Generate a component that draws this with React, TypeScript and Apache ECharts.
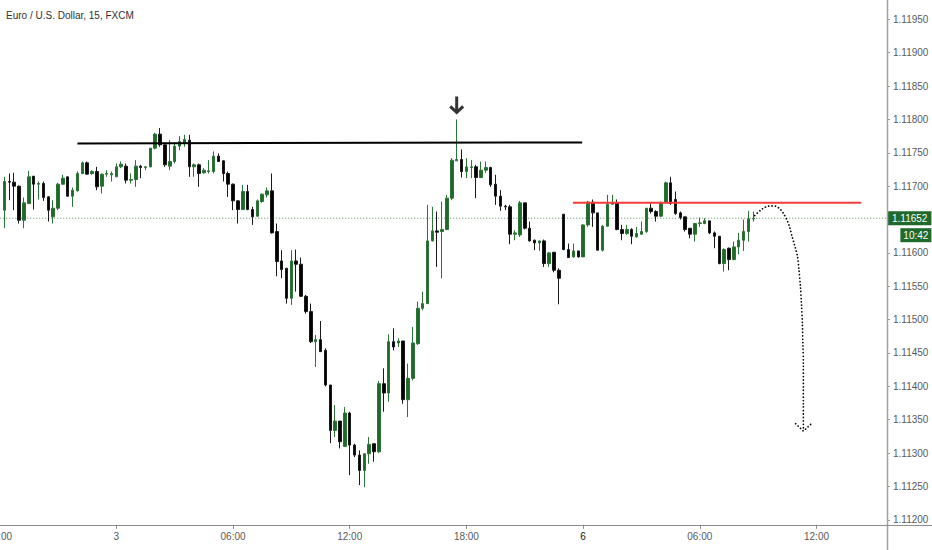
import React, { useEffect, useRef } from "react";
import * as echarts from "echarts";

const chartTitle = "Euro / U.S. Dollar, 15, FXCM";

// 15-minute candles, first candle is Thu 2020-01-02 18:15
const opens = [
  1.11664, 1.11707, 1.11706, 1.117, 1.11649, 1.11674, 1.11715, 1.11703, 1.11704, 1.11684,
  1.11654, 1.11667, 1.11703, 1.11714, 1.11685, 1.11693, 1.11719, 1.11735, 1.11719, 1.11722,
  1.117, 1.11718, 1.11717, 1.11714, 1.11729, 1.1173, 1.11709, 1.1171, 1.1173, 1.11728,
  1.11729, 1.11757, 1.11778, 1.11762, 1.1173, 1.11737, 1.1176, 1.11764, 1.11769, 1.11729,
  1.11732, 1.1172, 1.11722, 1.11722, 1.11745, 1.11738, 1.11719, 1.11703, 1.11678, 1.11665,
  1.11692, 1.11665, 1.11655, 1.11677, 1.11687, 1.11693, 1.11632, 1.11588, 1.11577, 1.11532,
  1.11588, 1.11583, 1.11535, 1.11512, 1.11467, 1.1147, 1.11454, 1.11402, 1.11334, 1.11348,
  1.1131, 1.1136, 1.11312, 1.11297, 1.11274, 1.11299, 1.11314, 1.11302, 1.11404, 1.1139,
  1.11467, 1.11465, 1.11468, 1.1138, 1.11412, 1.11464, 1.11517, 1.11524, 1.11618, 1.11633,
  1.11632, 1.11635, 1.11682, 1.11738, 1.1174, 1.11722, 1.11728, 1.11729, 1.11713, 1.11724,
  1.11728, 1.11703, 1.11685, 1.1167, 1.11669, 1.11628, 1.11627, 1.11675, 1.11637, 1.11619,
  1.11615, 1.11618, 1.11584, 1.11601, 1.11574, 1.11658, 1.11605, 1.11594, 1.11603, 1.11594,
  1.11642, 1.11676, 1.1166, 1.11604, 1.1164, 1.11673, 1.11675, 1.11635, 1.11629, 1.11635,
  1.11624, 1.11628, 1.11632, 1.11667, 1.11662, 1.11655, 1.11675, 1.11705, 1.1168, 1.1166,
  1.11654, 1.11637, 1.11628, 1.11644, 1.11644, 1.11648, 1.1163, 1.11625, 1.11584, 1.11607,
  1.1159, 1.11609, 1.11619, 1.11632, 1.11651,
];
const highs = [
  1.11714, 1.11719, 1.1172, 1.11701, 1.11683, 1.11723, 1.11715, 1.11707, 1.11707, 1.11685,
  1.11679, 1.11705, 1.11717, 1.11714, 1.11698, 1.11722, 1.11737, 1.11737, 1.11724, 1.11729,
  1.11719, 1.11724, 1.11722, 1.11734, 1.11737, 1.11734, 1.11719, 1.11739, 1.11732, 1.1173,
  1.11757, 1.1178, 1.11787, 1.11762, 1.11769, 1.11765, 1.11775, 1.11777, 1.11777, 1.11734,
  1.11734, 1.11727, 1.11739, 1.11752, 1.11749, 1.11739, 1.11722, 1.11704, 1.11679, 1.11702,
  1.11702, 1.11669, 1.1168, 1.11689, 1.11698, 1.11719, 1.11644, 1.11604, 1.11577, 1.11604,
  1.11605, 1.11593, 1.11537, 1.11524, 1.11477, 1.11498, 1.11457, 1.11402, 1.11372, 1.11348,
  1.11369, 1.11362, 1.11314, 1.11304, 1.11299, 1.11324, 1.11314, 1.11408, 1.11427, 1.11478,
  1.11487, 1.11472, 1.11468, 1.11434, 1.11489, 1.11527, 1.11542, 1.11672, 1.11669, 1.11662,
  1.11677, 1.11687, 1.11742, 1.118, 1.11755, 1.11742, 1.11739, 1.11732, 1.11737, 1.11737,
  1.11729, 1.11717, 1.11694, 1.11672, 1.11672, 1.11634, 1.11678, 1.11675, 1.11647, 1.1162,
  1.11618, 1.1162, 1.11601, 1.11601, 1.11577, 1.11658, 1.11614, 1.11614, 1.11603, 1.11643,
  1.11678, 1.1168, 1.1166, 1.11642, 1.11687, 1.11687, 1.1168, 1.11642, 1.11642, 1.11637,
  1.11639, 1.11647, 1.11667, 1.11674, 1.11664, 1.11677, 1.11707, 1.11714, 1.11692, 1.11662,
  1.11654, 1.11637, 1.11645, 1.11653, 1.11652, 1.11648, 1.11632, 1.11625, 1.11607, 1.11608,
  1.11617, 1.1163, 1.1165, 1.11663, 1.11662,
];
const lows = [
  1.11637, 1.11679, 1.11664, 1.11644, 1.11637, 1.11673, 1.11665, 1.1168, 1.11678, 1.11647,
  1.11644, 1.11664, 1.11702, 1.11684, 1.11669, 1.11692, 1.11718, 1.11717, 1.11717, 1.11694,
  1.11689, 1.11714, 1.11707, 1.11714, 1.11727, 1.11704, 1.11704, 1.11699, 1.11712, 1.11724,
  1.11728, 1.11755, 1.11759, 1.11729, 1.11724, 1.11734, 1.11754, 1.11759, 1.11714, 1.11714,
  1.11699, 1.11719, 1.11719, 1.11719, 1.11737, 1.11707, 1.11684, 1.11664, 1.11644, 1.11664,
  1.11664, 1.11642, 1.11654, 1.11675, 1.11683, 1.11629, 1.11565, 1.11562, 1.11524, 1.11522,
  1.11542, 1.11534, 1.11509, 1.11465, 1.11429, 1.11452, 1.114, 1.11315, 1.11324, 1.11307,
  1.1131, 1.11267, 1.11294, 1.11252, 1.11249, 1.11284, 1.11287, 1.113, 1.11362, 1.11377,
  1.11454, 1.11459, 1.11374, 1.11354, 1.11409, 1.11462, 1.11514, 1.11524, 1.11617, 1.11579,
  1.11562, 1.11634, 1.11679, 1.11738, 1.11713, 1.11712, 1.11712, 1.11682, 1.11712, 1.1172,
  1.11699, 1.11672, 1.11663, 1.11664, 1.11613, 1.11619, 1.11624, 1.11635, 1.11617, 1.11604,
  1.11603, 1.11579, 1.11579, 1.11571, 1.11523, 1.11604, 1.11593, 1.11593, 1.11593, 1.11594,
  1.11639, 1.11639, 1.11604, 1.11602, 1.1164, 1.11672, 1.11634, 1.11619, 1.11627, 1.11613,
  1.11623, 1.11627, 1.1163, 1.11659, 1.11647, 1.11654, 1.11674, 1.11672, 1.11657, 1.1165,
  1.11632, 1.11622, 1.11617, 1.11639, 1.11643, 1.11628, 1.11607, 1.11583, 1.11572, 1.11574,
  1.11589, 1.11598, 1.11603, 1.11617, 1.11647,
];
const closes = [
  1.11707, 1.11706, 1.117, 1.11649, 1.11675, 1.11714, 1.11703, 1.11704, 1.11683, 1.11664,
  1.11667, 1.11703, 1.11712, 1.11685, 1.11694, 1.11719, 1.11735, 1.11718, 1.11722, 1.11699,
  1.11718, 1.11719, 1.11719, 1.11729, 1.11733, 1.11709, 1.1171, 1.1173, 1.11728, 1.11729,
  1.11757, 1.11778, 1.11762, 1.11732, 1.11737, 1.1176, 1.11767, 1.1177, 1.11729, 1.11732,
  1.11719, 1.11724, 1.11723, 1.11745, 1.11737, 1.11719, 1.11703, 1.11678, 1.11665, 1.11692,
  1.11665, 1.11654, 1.11678, 1.11688, 1.11693, 1.1163, 1.11587, 1.11575, 1.11532, 1.11588,
  1.11583, 1.11535, 1.11512, 1.11467, 1.1147, 1.11452, 1.11402, 1.11334, 1.11348, 1.11317,
  1.1136, 1.11312, 1.11297, 1.11274, 1.11299, 1.11313, 1.11302, 1.11404, 1.1139, 1.11467,
  1.11459, 1.11468, 1.1138, 1.11412, 1.11465, 1.11517, 1.11524, 1.11618, 1.11633, 1.11631,
  1.11635, 1.11682, 1.11739, 1.1174, 1.11722, 1.11729, 1.11729, 1.11713, 1.11724, 1.11728,
  1.11702, 1.11685, 1.1167, 1.11669, 1.11628, 1.1163, 1.11675, 1.11637, 1.11618, 1.11615,
  1.11618, 1.11584, 1.116, 1.11574, 1.11562, 1.11605, 1.11593, 1.11603, 1.11594, 1.11642,
  1.11676, 1.1166, 1.11604, 1.1164, 1.11673, 1.11675, 1.11635, 1.11629, 1.11635, 1.11625,
  1.11629, 1.11632, 1.11667, 1.11662, 1.11655, 1.11675, 1.11705, 1.11674, 1.11659, 1.11653,
  1.11635, 1.11628, 1.11644, 1.11645, 1.11648, 1.1163, 1.11625, 1.11584, 1.11605, 1.1159,
  1.11609, 1.11619, 1.11632, 1.11651, 1.11652,
];

const lastPrice = 1.11652;
const barCountdown = "10:42";

// drawings (x in slot units, y in price)
const resistanceLine = [
  [16, 1.11764],
  [119.8, 1.117655],
];
const redLevelLine = [
  [117.9, 1.11675],
  [177.2, 1.11675],
];
const arrowMark = [[94, 1.11821]];
const projectionPath = [
  [155.3, 1.11656],
  [156.5, 1.11664],
  [157.6, 1.11669],
  [158.6, 1.116705],
  [159.6, 1.1167],
  [160.6, 1.11665],
  [161.3, 1.11658],
  [162.0, 1.11648],
  [162.5, 1.11638],
  [163.0, 1.11624],
  [163.6, 1.11609],
  [164.1, 1.11594],
  [164.4, 1.11574],
  [164.7, 1.11549],
  [164.9, 1.11524],
  [165.1, 1.11494],
  [165.2, 1.11464],
  [165.3, 1.11434],
  [165.3, 1.11374],
  [165.3, 1.11336],
];
const projectionHead = [
  [163.7, 1.11344],
  [165.3, 1.11333],
  [166.8, 1.11343],
];

// axis
const yMin = 1.112;
const yMax = 1.12;
const yStep = 0.0005;
const SLOT_COUNT = 183;
const FIRST_CANDLE_SLOT = 1;
const FRIDAY_LAST_SLOT = 115;
const MONDAY_OPEN_SLOT = 120;
const sessionStart = Date.UTC(2020, 0, 2, 18, 0);
const mondayStart = Date.UTC(2020, 0, 6, 0, 0);
const QUARTER = 15 * 60 * 1000;

const pad = (n: number) => (n < 10 ? "0" + n : String(n));
const categories: string[] = Array.from({ length: SLOT_COUNT }, (_, i) => {
  const t = i <= FRIDAY_LAST_SLOT ? sessionStart + i * QUARTER : mondayStart + (i - MONDAY_OPEN_SLOT) * QUARTER;
  const d = new Date(t);
  return `${d.getUTCFullYear()}-${pad(d.getUTCMonth() + 1)}-${pad(d.getUTCDate())} ${pad(d.getUTCHours())}:${pad(d.getUTCMinutes())}`;
});

const isMajor = (value: string) => {
  const hm = value.slice(11);
  const h = parseInt(hm.slice(0, 2), 10);
  return hm.slice(3) === "00" && h % 6 === 0;
};
const tickText = (value: string) => {
  const hm = value.slice(11);
  if (hm === "00:00") {
    const day = String(parseInt(value.slice(8, 10), 10));
    return value.slice(8, 10) === "06" ? `{d|${day}}` : day;
  }
  return hm;
};

const GREEN = "#1f6a2b";
const AXIS_FONT = "'Liberation Sans', Arial, sans-serif";

export default function App() {
  const ref = useRef<HTMLDivElement>(null);
  useEffect(() => {
    if (!ref.current) return;
    const chart = echarts.init(ref.current, undefined, { renderer: "svg" });
    const source = opens.map((o, i) => [categories[i + FIRST_CANDLE_SLOT], o, closes[i], lows[i], highs[i]]);
    const priceLine = [
      [-0.5, lastPrice],
      [SLOT_COUNT - 0.5, lastPrice],
    ];
    chart.setOption({
      animation: false,
      backgroundColor: "#ffffff",
      title: {
        text: chartTitle,
        left: 6,
        top: 10,
        padding: 0,
        textStyle: { fontSize: 10, fontWeight: "normal", color: "#303030", fontFamily: "'Liberation Sans', Arial, sans-serif" },
      },
      dataset: { source },
      grid: { left: -2.78, right: 45, top: -14, bottom: 30.2, containLabel: false, outerBoundsMode: "none" },
      xAxis: [
        {
          type: "category",
          data: categories,
          boundaryGap: true,
          position: "bottom",
          offset: 5,
          axisLine: { show: false, onZero: false },
          axisTick: {
            show: true,
            alignWithLabel: true,
            interval: (_i: number, v: string) => isMajor(v),
            length: 4,
            lineStyle: { color: "#8a8a8a" },
          },
          axisLabel: {
            interval: (_i: number, v: string) => isMajor(v),
            formatter: (v: string) => tickText(v),
            color: "#5a5a5a",
            fontSize: 10,
            fontFamily: AXIS_FONT,
            margin: 7,
            hideOverlap: false,
            rich: { d: { color: "#111111", fontSize: 10, fontFamily: AXIS_FONT } },
          },
          splitLine: { show: false },
        },
        {
          type: "value",
          min: -0.5,
          max: SLOT_COUNT - 0.5,
          show: false,
          axisLine: { onZero: false },
        },
      ],
      yAxis: {
        type: "value",
        position: "right",
        min: yMin,
        max: yMax,
        interval: yStep,
        splitLine: { show: false },
        axisLine: { show: false, onZero: false },
        axisTick: { show: true, length: 3, lineStyle: { color: "#9a9a9a" } },
        axisLabel: {
          formatter: (v: number) => v.toFixed(5),
          color: "#5a5a5a",
          fontSize: 10,
          fontFamily: AXIS_FONT,
          margin: 6,
          showMaxLabel: false,
        },
      },
      graphic: [
        { type: "line", shape: { x1: 887.5, y1: 0, x2: 887.5, y2: 550 }, style: { stroke: "#a3a3a3", lineWidth: 1.5 }, z: 10 },
        { type: "line", shape: { x1: 0, y1: 525.5, x2: 932, y2: 525.5 }, style: { stroke: "#8c8c8c", lineWidth: 1 }, z: 10 },
      ],
      series: [
        {
          type: "line",
          xAxisIndex: 1,
          data: priceLine,
          symbol: "none",
          silent: true,
          z: 1,
          lineStyle: { color: "#4f8a58", type: [1, 2], width: 1 },
          endLabel: {
            show: true,
            distance: 0,
            offset: [0, 8.5],
            formatter: `{a|${lastPrice.toFixed(5)}}\n{b|${barCountdown}}`,
            rich: {
              a: {
                color: "#ffffff",
                backgroundColor: GREEN,
                fontSize: 10,
                fontFamily: AXIS_FONT,
                padding: [2, 4, 2, 5],
                lineHeight: 17,
                align: "left",
              },
              b: {
                color: "#ffffff",
                backgroundColor: GREEN,
                fontSize: 10,
                fontFamily: AXIS_FONT,
                padding: [2, 3, 2, 3],
                lineHeight: 17,
                align: "right",
              },
            },
          },
        },
        {
          type: "candlestick",
          encode: { x: 0, y: [1, 2, 3, 4] },
          barWidth: 3,
          z: 3,
          itemStyle: {
            color: GREEN,
            color0: "#000000",
            borderColor: "#2c7336",
            borderColor0: "#1a1a1a",
            borderWidth: 1,
          },
        },
        {
          type: "line",
          xAxisIndex: 1,
          data: resistanceLine,
          symbol: "none",
          lineStyle: { color: "#000000", width: 2 },
          silent: true,
          z: 5,
        },
        {
          type: "line",
          xAxisIndex: 1,
          data: redLevelLine,
          symbol: "none",
          lineStyle: { color: "#f23b3b", width: 2 },
          silent: true,
          z: 5,
        },
        {
          type: "scatter",
          xAxisIndex: 1,
          data: arrowMark,
          symbol: "path://M6.4 0 L9.6 0 L9.6 14.2 L13.7 10.1 L16 12.4 L8 20.4 L0 12.4 L2.3 10.1 L6.4 14.2 Z",
          symbolSize: [15, 18],
          itemStyle: { color: "#000000" },
          silent: true,
          z: 6,
        },
        {
          type: "line",
          xAxisIndex: 1,
          data: projectionPath,
          symbol: "none",
          smooth: 0.3,
          lineStyle: { color: "#000000", width: 1.7, type: [0.1, 3.3], cap: "round" },
          silent: true,
          z: 5,
        },
        {
          type: "line",
          xAxisIndex: 1,
          data: projectionHead,
          symbol: "none",
          lineStyle: { color: "#000000", width: 1.7, type: [0.1, 3.3], cap: "round" },
          silent: true,
          z: 5,
        },
      ],
    });
    return () => chart.dispose();
  }, []);
  return <div ref={ref} style={{ position: "absolute", left: 0, top: 0, width: 932, height: 550 }} />;
}
